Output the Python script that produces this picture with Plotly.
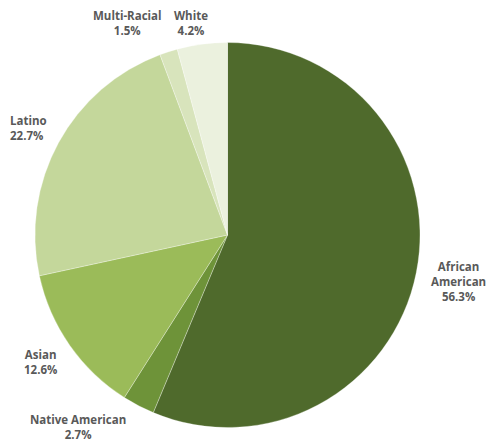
import plotly.graph_objects as go

categories = ["African American", "Native American", "Asian", "Latino", "Multi-Racial", "White"]
values = [56.3, 2.7, 12.6, 22.7, 1.5, 4.2]
colors = ["#4F6A2C", "#6E9339", "#9BBB59", "#C4D79B", "#D8E4BC", "#EBF1DE"]
label_text = ["African<br>American<br>56.3%", "Native American<br>2.7%", "Asian<br>12.6%",
              "Latino<br>22.7%", "Multi-Racial<br>1.5%", "White<br>4.2%"]
# label anchor positions in paper coords (x, y, xanchor)
label_pos = [(458, 281, "center"), (78, 427, "center"), (40, 362, "center"),
             (8, 128, "left"), (127, 23, "center"), (191, 23, "center")]

W, H = 491, 446
fig = go.Figure(go.Pie(
    labels=categories, values=values, sort=False, direction="clockwise", rotation=0,
    marker=dict(colors=colors, line=dict(color="rgba(255,255,255,0.5)", width=0.6)),
    textinfo="none", hoverinfo="label+percent", showlegend=False,
    domain=dict(x=[35 / W, 420 / W], y=[1 - 428 / H, 1 - 42 / H]),
))
for txt, (px, py, xa) in zip(label_text, label_pos):
    fig.add_annotation(x=px / W, y=1 - py / H, xref="paper", yref="paper", text="<b>" + txt + "</b>",
                       showarrow=False, xanchor=xa, yanchor="middle", align="center" if xa == "center" else "left",
                       font=dict(family="Open Sans", size=11.5, color="#595959"))
fig.update_layout(width=W, height=H, margin=dict(l=0, r=0, t=0, b=0),
                  paper_bgcolor="white", plot_bgcolor="white")
fig.write_html("out.html")
